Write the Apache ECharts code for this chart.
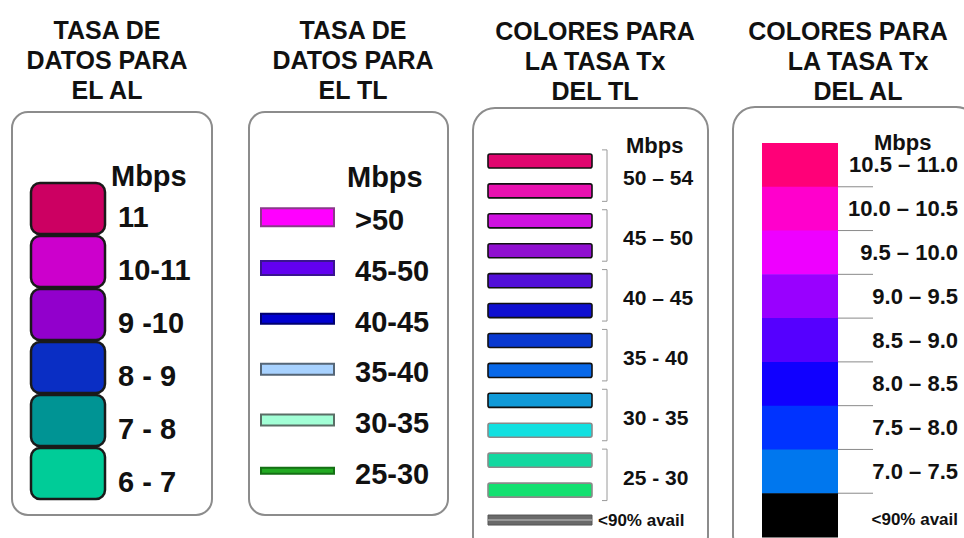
<!DOCTYPE html>
<html>
<head>
<meta charset="utf-8">
<script src="https://cdn.jsdelivr.net/npm/echarts@6/dist/echarts.min.js"></script>
<style>
html,body{margin:0;padding:0;background:#fff;}
#chart{width:964px;height:538px;}
</style>
</head>
<body>
<div id="chart"></div>
<script>
// ---- data ----
const unitLabel = 'Mbps';
const titleAL = 'TASA DE\nDATOS PARA\nEL AL';
const titleTL = 'TASA DE\nDATOS PARA\nEL TL';
const titleTxTL = 'COLORES PARA\nLA TASA Tx\nDEL TL';
const titleTxAL1 = 'COLORES PARA';
const titleTxAL2 = 'LA TASA Tx\nDEL AL';

const alLabels = ['11', '10-11', '9 -10', '8 - 9', '7 - 8', '6 - 7'];
const tlLabels = ['>50', '45-50', '40-45', '35-40', '30-35', '25-30'];
const tlTxGroups = ['50 – 54', '45 – 50', '40 – 45', '35 - 40', '30 - 35', '25 - 30'];
const unavailLabel = '<90% avail';
const alTxLabels = ['10.5 – 11.0', '10.0 – 10.5', '9.5 – 10.0', '9.0 – 9.5', '8.5 – 9.0', '8.0 – 8.5', '7.5 – 8.0', '7.0 – 7.5', '<90% avail'];

// ---- styles ----
const FONT = '"Liberation Sans", Arial, Helvetica, sans-serif';
const alColors = ['#cc0062', '#cc00cc', '#9200cc', '#0a2ec4', '#009494', '#00cc98'];
const tlStyles = [
  { h: 18, fill: '#ff00ff', stroke: '#8a3a8a' },
  { h: 14, fill: '#6200f0', stroke: '#3a1490' },
  { h: 10, fill: '#0000d0', stroke: '#000070' },
  { h: 11, fill: '#a8d2ff', stroke: '#556677' },
  { h: 11, fill: '#a2ffd6', stroke: '#5a6e66' },
  { h: 6, fill: '#22aa22', stroke: '#147014' }
];
const tlTxColors = ['#e0066f', '#e812b0', '#cf12e0', '#9010d0', '#5210d8', '#1010d0',
                    '#0838d0', '#0868e8', '#109ad8', '#12e0e0', '#12d8a0', '#12e070'];
const alTxColors = ['#ff0078', '#ff00cc', '#ee00ff', '#9900ff', '#5500ff', '#1000ff', '#0033ff', '#0077ee', '#000000'];

// categories for panel 3: two shades per rate group + unavailable
const tlTxCats = [];
tlTxGroups.forEach(g => { tlTxCats.push(g + ' (a)'); tlTxCats.push(g + ' (b)'); });
tlTxCats.push(unavailLabel);

const chart = echarts.init(document.getElementById('chart'), null, { renderer: 'svg' });

function catAxis(grid, data) {
  return { type: 'category', gridIndex: grid, data: data, inverse: true, show: false };
}
function valAxis(grid) {
  return { type: 'value', gridIndex: grid, min: 0, max: 1, show: false };
}
function titleCfg(text, cx, top) {
  return {
    text: text, left: cx, top: top, textAlign: 'center', padding: 0, itemGap: 0,
    textStyle: { fontFamily: FONT, fontWeight: 'bold', fontSize: 25, lineHeight: 30, color: '#111' }
  };
}
function boxShape(x, y, w, h, r) {
  return { type: 'rect', silent: true, z: -1, shape: { x: x, y: y, width: w, height: h, r: r },
           style: { fill: '#fff', stroke: '#8c8c8c', lineWidth: 2 } };
}
function headText(x, y, size) {
  return { type: 'text', x: x, y: y, silent: true,
           style: { text: unitLabel, font: 'bold ' + size + 'px ' + FONT, fill: '#111', verticalAlign: 'middle' } };
}

const option = {
  animation: false,
  backgroundColor: '#fff',
  title: [
    titleCfg(titleAL, 107, 15),
    titleCfg(titleTL, 353, 15),
    titleCfg(titleTxTL, 595, 16),
    titleCfg(titleTxAL1, 848, 16),
    titleCfg(titleTxAL2, 858, 46)
  ],
  graphic: [
    boxShape(12, 112, 200, 403, 16),
    boxShape(249, 112, 199, 403, 16),
    boxShape(473, 108, 235, 450, 22),
    boxShape(733, 107, 245, 450, 22),
    headText(111, 176, 29),
    headText(347, 177, 29),
    headText(626, 145, 22),
    headText(874, 142, 22)
  ],
  grid: [
    { left: 31, top: 182, width: 74, height: 318 },
    { left: 261, top: 192, width: 73, height: 304 },
    { left: 488, top: 146, width: 104, height: 389 },
    { left: 762, top: 143, width: 76, height: 394 }
  ],
  xAxis: [valAxis(0), valAxis(1), valAxis(2), valAxis(3)],
  yAxis: [catAxis(0, alLabels), catAxis(1, tlLabels), catAxis(2, tlTxCats), catAxis(3, alTxLabels)],
  series: [
    {
      type: 'custom', xAxisIndex: 0, yAxisIndex: 0,
      data: alLabels.map(c => [1, c]), encode: { x: 0, y: 1 },
      renderItem: function (params, api) {
        const i = params.dataIndex;
        const p0 = api.coord([0, i]);
        const p1 = api.coord([api.value(0), i]);
        const h = api.size([0, 1])[1];
        return { type: 'group', children: [
          { type: 'rect', shape: { x: p0[0], y: p0[1] - h / 2 + 1, width: p1[0] - p0[0], height: h - 2, r: 9 },
            style: { fill: alColors[i], stroke: '#1a1a1a', lineWidth: 2.5 } },
          { type: 'text', style: { text: alLabels[i], x: p1[0] + 13, y: p0[1] + 8,
            font: 'bold 29px ' + FONT, fill: '#111', verticalAlign: 'middle', align: 'left' } }
        ] };
      }
    },
    {
      type: 'custom', xAxisIndex: 1, yAxisIndex: 1,
      data: tlLabels.map(c => [1, c]), encode: { x: 0, y: 1 },
      renderItem: function (params, api) {
        const i = params.dataIndex;
        const p0 = api.coord([0, i]);
        const p1 = api.coord([api.value(0), i]);
        const s = tlStyles[i];
        return { type: 'group', children: [
          { type: 'rect', shape: { x: p0[0], y: p0[1] - s.h / 2, width: p1[0] - p0[0], height: s.h },
            style: { fill: s.fill, stroke: s.stroke, lineWidth: 2 } },
          { type: 'text', style: { text: tlLabels[i], x: p1[0] + 21, y: p0[1] + 3,
            font: 'bold 29px ' + FONT, fill: '#111', verticalAlign: 'middle', align: 'left' } }
        ] };
      }
    },
    {
      type: 'custom', xAxisIndex: 2, yAxisIndex: 2,
      data: tlTxCats.map(c => [1, c]), encode: { x: 0, y: 1 },
      renderItem: function (params, api) {
        const i = params.dataIndex;
        const p0 = api.coord([0, i]);
        const p1 = api.coord([api.value(0), i]);
        const h = api.size([0, 1])[1];
        const w = p1[0] - p0[0];
        const children = [];
        if (i < 12) {
          const bh = h * 0.47;
          children.push({ type: 'rect', shape: { x: p0[0], y: p0[1] - bh / 2, width: w, height: bh, r: 2 },
            style: { fill: tlTxColors[i], stroke: i < 9 ? '#111' : '#8a8a8a', lineWidth: 1.6 } });
          if (i % 2 === 0) {
            const pn = api.coord([1, i + 1]);
            const bx = p1[0] + 15;
            const y1 = p0[1] - h * 0.37, y2 = pn[1] + h * 0.35;
            children.push({ type: 'polyline', shape: { points: [[bx - 5, y1], [bx, y1], [bx, y2], [bx - 5, y2]] },
              style: { stroke: '#9a9a9a', lineWidth: 1, fill: null } });
            children.push({ type: 'text', style: { text: tlTxGroups[i / 2], x: p1[0] + 31, y: (p0[1] + pn[1]) / 2 + 2,
              font: 'bold 21px ' + FONT, fill: '#111', verticalAlign: 'middle', align: 'left' } });
          }
        } else {
          const bh = 10;
          children.push({ type: 'rect', shape: { x: p0[0], y: p0[1] - bh / 2, width: w, height: bh },
            style: { fill: '#6a6a6a', stroke: '#555', lineWidth: 1 } });
          children.push({ type: 'line', shape: { x1: p0[0], y1: p0[1], x2: p1[0], y2: p0[1] },
            style: { stroke: '#a8a8a8', lineWidth: 1.5 } });
          children.push({ type: 'text', style: { text: unavailLabel, x: p1[0] + 6, y: p0[1],
            font: 'bold 17px ' + FONT, fill: '#111', verticalAlign: 'middle', align: 'left' } });
        }
        return { type: 'group', children: children };
      }
    },
    {
      type: 'custom', xAxisIndex: 3, yAxisIndex: 3,
      data: alTxLabels.map(c => [1, c]), encode: { x: 0, y: 1 },
      renderItem: function (params, api) {
        const i = params.dataIndex;
        const p0 = api.coord([0, i]);
        const p1 = api.coord([api.value(0), i]);
        const h = api.size([0, 1])[1];
        const last = i === alTxLabels.length - 1;
        const children = [
          { type: 'rect', shape: { x: p0[0], y: p0[1] - h / 2, width: p1[0] - p0[0], height: h + 0.5 },
            style: { fill: alTxColors[i] } },
          { type: 'text', style: { text: alTxLabels[i], x: p1[0] + 120, y: p0[1] + (last ? 4 : 0),
            font: 'bold ' + (last ? 17 : 22) + 'px ' + FONT, fill: '#111', verticalAlign: 'middle', align: 'right' } }
        ];
        if (!last) {
          children.push({ type: 'line', shape: { x1: p1[0], y1: p0[1] + h / 2, x2: p1[0] + 35, y2: p0[1] + h / 2 },
            style: { stroke: '#8a8a8a', lineWidth: 1 } });
        }
        return { type: 'group', children: children };
      }
    }
  ]
};
chart.setOption(option);
</script>
</body>
</html>
